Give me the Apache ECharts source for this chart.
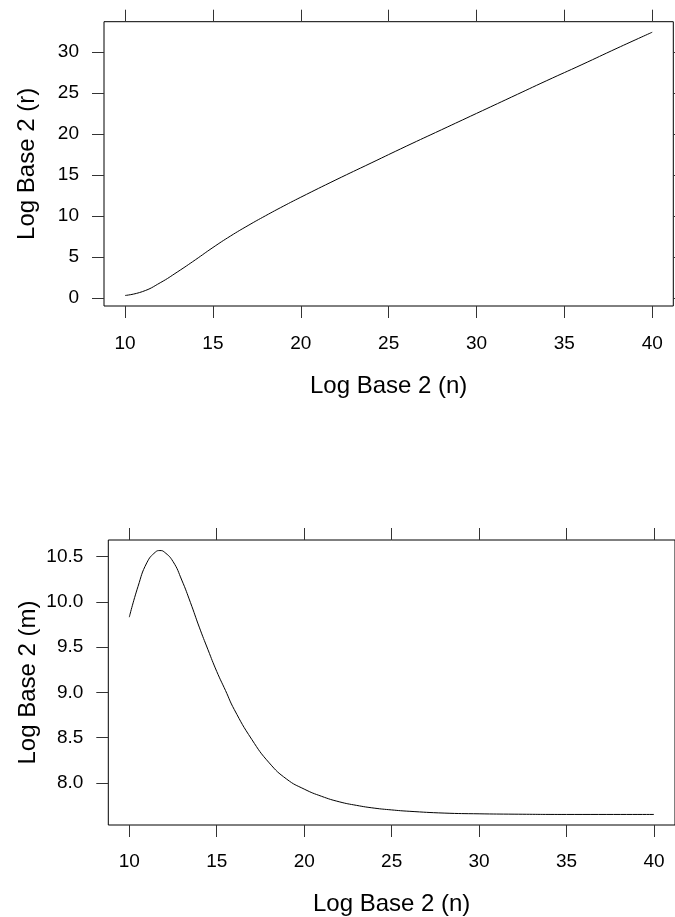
<!DOCTYPE html>
<html><head><meta charset="utf-8">
<script src="https://cdn.jsdelivr.net/npm/echarts@6/dist/echarts.min.js"></script>
<style>html,body{margin:0;padding:0;background:#fff}#c{width:675px;height:917px}</style>
</head><body><div id="c"></div>
<script>
const nTop = [10, 11, 12, 13, 14, 15, 16, 17, 18, 19, 20, 22, 24, 26, 28, 30, 32, 34, 36, 38, 40];
const rTop = [0.3, 0.78, 1.85, 3.2, 4.65, 6.15, 7.55, 8.83, 10.03, 11.18, 12.28, 14.4, 16.45, 18.5, 20.5, 22.5, 24.5, 26.5, 28.45, 30.45, 32.4];
const nBot = [10, 10.5, 11, 11.5, 11.75, 12, 12.5, 13, 13.5, 14, 14.5, 15, 15.5, 16, 17, 18, 19, 20, 21, 22, 23, 24, 25, 26, 28, 30, 32, 35, 40];
const mBot = [9.83, 10.17, 10.43, 10.55, 10.566, 10.55, 10.445, 10.24, 9.99, 9.72, 9.47, 9.23, 9.02, 8.81, 8.48, 8.22, 8.04, 7.93, 7.85, 7.79, 7.75, 7.72, 7.70, 7.685, 7.665, 7.657, 7.653, 7.65, 7.65];
const xTicks = [10, 15, 20, 25, 30, 35, 40];
const rTicks = [0, 5, 10, 15, 20, 25, 30];
const mTicks = [8.0, 8.5, 9.0, 9.5, 10.0, 10.5];
const xTitle = 'Log Base 2 (n)';
const rTitle = 'Log Base 2 (r)';
const mTitle = 'Log Base 2 (m)';

function padRange(arr) {
  const lo = Math.min(...arr), hi = Math.max(...arr), p = (hi - lo) * 0.04;
  return [lo - p, hi + p];
}
const FONT = 'Liberation Sans, Arial, Helvetica, sans-serif';
const xr = padRange(nTop.concat(nBot));
const rr = padRange(rTop);
const mr = padRange(mBot);

function tick(vals) {
  return { show: true, inside: false, length: 12, customValues: vals, lineStyle: { color: '#333', width: 1 } };
}
function xAx(grid, pos, withLabels, gap, margin) {
  return {
    type: 'value', gridIndex: grid, position: pos, min: xr[0], max: xr[1],
    axisLine: { show: false, onZero: false }, splitLine: { show: false },
    axisTick: tick(xTicks),
    axisLabel: withLabels ? { show: true, customValues: xTicks, margin: margin, fontSize: 19, color: '#000', fontFamily: FONT } : { show: false },
    name: withLabels ? xTitle : '', nameLocation: 'middle', nameGap: gap, nameMoveOverlap: false,
    nameTextStyle: { fontSize: 24, color: '#000', fontFamily: FONT }
  };
}
function yAx(grid, pos, range, ticks, withLabels, title, gap, fmt) {
  return {
    type: 'value', gridIndex: grid, position: pos, min: range[0], max: range[1],
    axisLine: { show: false, onZero: false }, splitLine: { show: false },
    axisTick: tick(ticks),
    axisLabel: withLabels ? { show: true, customValues: ticks, margin: 25, fontSize: 19, color: '#000', fontFamily: FONT, formatter: fmt } : { show: false },
    name: withLabels ? title : '', nameLocation: 'middle', nameGap: gap, nameRotate: 90, nameMoveOverlap: false,
    nameTextStyle: { fontSize: 24, color: '#000', fontFamily: FONT }
  };
}

const chart = echarts.init(document.getElementById('c'), null, { renderer: 'canvas' });
chart.setOption({
  animation: false,
  backgroundColor: '#fff',
  grid: [
    { left: 104, top: 21.7, width: 569.3, height: 284.3, show: true, borderColor: '#000', borderWidth: 1, containLabel: false },
    { left: 108.3, top: 540, width: 569.5, height: 285, show: true, borderColor: '#000', borderWidth: 1, containLabel: false }
  ],
  xAxis: [
    xAx(0, 'bottom', true, 68, 28),
    xAx(0, 'top', false, 0, 0),
    xAx(1, 'bottom', true, 67, 27),
    xAx(1, 'top', false, 0, 0)
  ],
  yAxis: [
    yAx(0, 'left', rr, rTicks, true, rTitle, 65, v => String(v)),
    yAx(0, 'right', rr, rTicks, false, '', 0),
    yAx(1, 'left', mr, mTicks, true, mTitle, 68, v => v.toFixed(1)),
    yAx(1, 'right', mr, mTicks, false, '', 0)
  ],
  series: [
    { type: 'line', xAxisIndex: 0, yAxisIndex: 0, showSymbol: false, smooth: true, silent: true,
      lineStyle: { color: '#000', width: 1 }, data: nTop.map((n, i) => [n, rTop[i]]) },
    { type: 'line', xAxisIndex: 2, yAxisIndex: 2, showSymbol: false, smooth: true, silent: true,
      lineStyle: { color: '#000', width: 1 }, data: nBot.map((n, i) => [n, mBot[i]]) }
  ]
});
</script>
</body></html>
